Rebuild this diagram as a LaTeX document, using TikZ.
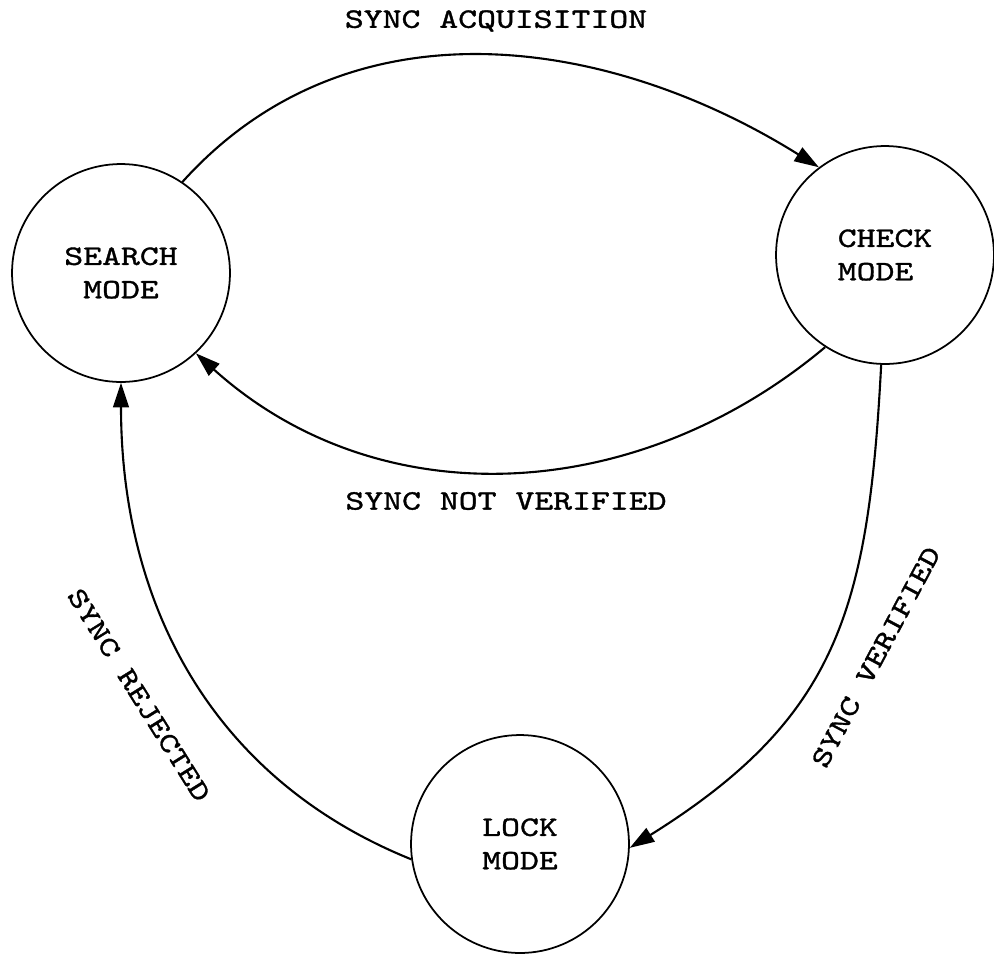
\documentclass[tikz,border=0pt]{standalone}
\usepackage{fontspec}
\newfontfamily\typer[FakeStretch=1.28,FakeBold=1.2]{lmmono10-regular.otf}
\usetikzlibrary{arrows.meta}
\begin{document}
\begin{tikzpicture}[x=0.02cm, y=-0.02cm,
  every node/.style={font=\typer\fontsize{16}{19}\selectfont},
  mode/.style={draw,circle,line width=1pt,minimum size=4.36cm,inner sep=0pt,align=center},
  trans/.style={-{Triangle[length=14pt,width=9pt]},line width=1.2pt},
  lbl/.style={inner sep=1pt}]
\useasboundingbox (0,0) rectangle (994,954);
% states
\node[mode] (search) at (121,273) {SEARCH\\MODE};
\node[mode,align=left] (check) at (885,255) {CHECK\\MODE};
\node[mode] (lock) at (520,844) {LOCK\\MODE};
% transitions
\draw[trans] (search.56) to[out=48,in=148] (check.127);
\draw[trans] (check.237) to[out=220,in=318] (search.313);
\draw[trans] (check.268) to[out=267,in=32,looseness=1.15] (lock.358);
\draw[trans] (lock.188) to[out=158,in=270] (search.south);
% labels
\node[lbl] (acq) at (496,21) {SYNC ACQUISITION};
\node[lbl] (notver) at (506,501) {SYNC NOT VERIFIED};
\node[lbl,rotate=62] (ver) at (876,657) {SYNC VERIFIED};
\node[lbl,rotate=-58] (rej) at (139,695) {SYNC REJECTED};
\end{tikzpicture}
\end{document}
